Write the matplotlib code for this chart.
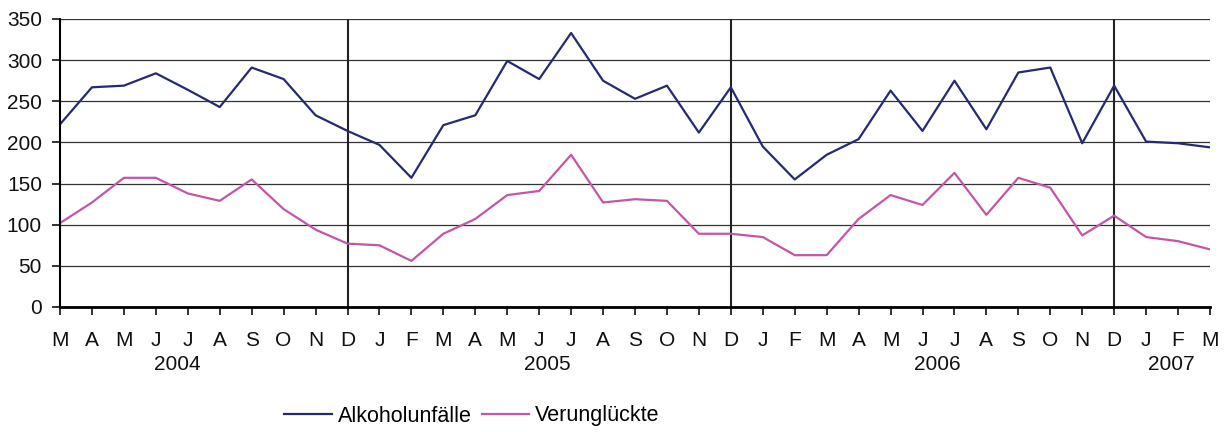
import numpy as np
import matplotlib.pyplot as plt

months = ["M", "A", "M", "J", "J", "A", "S", "O", "N", "D",
          "J", "F", "M", "A", "M", "J", "J", "A", "S", "O", "N", "D",
          "J", "F", "M", "A", "M", "J", "J", "A", "S", "O", "N", "D",
          "J", "F", "M"]
years = ["2004", "2005", "2006", "2007"]
year_pos = [3.66, 15.25, 27.46, 34.8]
year_breaks = [9, 21, 33]

alkohol = [222, 267, 269, 284, 264, 243, 291, 277, 233, 214,
           197, 157, 221, 233, 299, 277, 333, 275, 253, 269, 212, 267,
           195, 155, 185, 204, 263, 214, 275, 216, 285, 291, 199, 269,
           201, 199, 194]
verungl = [102, 127, 157, 157, 138, 129, 155, 119, 94, 77,
           75, 56, 89, 107, 136, 141, 185, 127, 131, 129, 89, 89,
           85, 63, 63, 107, 136, 124, 163, 112, 157, 145, 87, 111,
           85, 80, 70]

plt.rcParams['font.family'] = ['Liberation Sans', 'DejaVu Sans']

fig = plt.figure(figsize=(12.3, 4.32), dpi=100)
ax = fig.add_axes([60 / 1230, 125 / 432, 1150 / 1230, 288 / 432])

x = np.arange(len(months))
ax.plot(x, alkohol, color="#262a72", lw=1.6, label="Alkoholunfälle")
ax.plot(x, verungl, color="#c455a8", lw=1.6, label="Verunglückte")

for b in year_breaks:
    ax.axvline(b, color="#222222", lw=1.5, zorder=1)

ax.set_xlim(0, len(months) - 1)
ax.set_ylim(0, 350)
ax.set_yticks(range(0, 351, 50))
ax.yaxis.grid(True, color="#333333", lw=0.9)
ax.set_axisbelow(True)
for s in ["top", "right"]:
    ax.spines[s].set_visible(False)
ax.spines["left"].set_linewidth(1.5)
ax.spines["bottom"].set_linewidth(2)

ax.set_xticks(x)
ax.set_xticklabels(months)
ax.tick_params(axis="both", direction="out", length=6, width=1.2, labelsize=15, colors="#111111")
ax.tick_params(axis="x", pad=11)
ax.tick_params(axis="y", pad=7)

for yr, p in zip(years, year_pos):
    ax.text(p, -0.2, yr, transform=ax.get_xaxis_transform(), ha="center", va="center", fontsize=15, color="#111111")

fig.legend(loc="center", bbox_to_anchor=(472 / 1230, 1 - 416 / 432), ncol=2, frameon=False,
           fontsize=15.5, handlelength=2.2, handletextpad=0.3, columnspacing=0.45)

fig.savefig("out.png", dpi=100)
